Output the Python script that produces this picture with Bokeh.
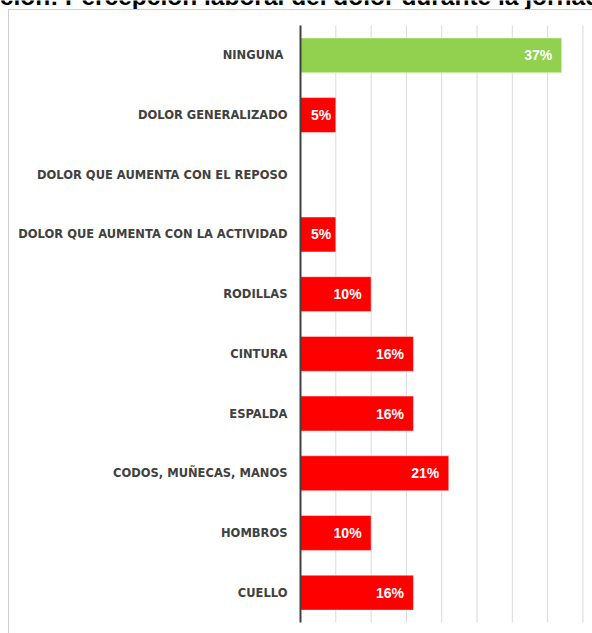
from bokeh.plotting import figure
from bokeh.models import Range1d, ColumnDataSource, InlineStyleSheet
from bokeh.embed import file_html
from bokeh.resources import INLINE
from bokeh.core.properties import value

# ---- data (top to bottom) ----
categories = [
    "NINGUNA ",
    "DOLOR GENERALIZADO",
    "DOLOR QUE AUMENTA CON EL REPOSO",
    "DOLOR QUE AUMENTA CON LA ACTIVIDAD",
    "RODILLAS",
    "CINTURA",
    "ESPALDA",
    "CODOS, MUÑECAS, MANOS",
    "HOMBROS",
    "CUELLO",
]
values = [37, 5, 0, 5, 10, 16, 16, 21, 10, 16]
grid_ticks = [0, 5, 10, 15, 20, 25, 30, 35, 40]
title_text = "Distribución: Percepción laboral del dolor durante la jornada"

GREEN = "#92D050"
RED = "#FF0000"

W, H = 592, 633
n = len(categories)
# the plotting frame covers the whole canvas; category slots sit from px 25 to px 622
PX_PER_PCT = 7.06
X0_PX = 300
x_start = -X0_PX / PX_PER_PCT
x_end = (W - X0_PX) / PX_PER_PCT
slot = (622 - 25) / n
y_start = -(H - 622) / slot
y_end = n + 25 / slot

ypos = [n - 0.5 - i for i in range(n)]
colors = [GREEN if c.strip() == "NINGUNA" else RED for c in categories]
src = ColumnDataSource(dict(y=ypos, cat=categories, val=values, color=colors))

lab_y = [y for y, v in zip(ypos, values) if v > 0]
lab_vals = [v for v in values if v > 0]
lab_txt = [f"{v}%" for v in lab_vals]
lab_off = [-4.5 if v < 8 else -9.5 for v in lab_vals]
lab_src = ColumnDataSource(dict(y=lab_y, val=lab_vals, txt=lab_txt, off=lab_off))

p = figure(
    width=W, height=H,
    x_range=Range1d(x_start, x_end), y_range=Range1d(y_start, y_end),
    x_axis_location=None, y_axis_location=None,
    output_backend="svg", toolbar_location=None,
    min_border=0, margin=(0, 0, 0, 0),
)
p.outline_line_color = None
p.background_fill_color = "white"
p.border_fill_color = "white"
p.grid.visible = False

# outer chart border: only its left and top edges fall inside the picture
p.stylesheets = [InlineStyleSheet(css="""
:host { position: relative; }
:host::after {
  content: ""; position: absolute; left: 8px; top: 9px; right: 0; bottom: 0;
  border-left: 1px solid #cfcfcf; border-top: 1px solid #cfcfcf;
  pointer-events: none; z-index: 10;
}
""")]

# vertical grid lines at the value ticks, spanning the category area
p.segment(x0=grid_ticks, x1=grid_ticks, y0=[0] * len(grid_ticks), y1=[n] * len(grid_ticks),
          line_color="#d9d9d9", line_width=1)

p.hbar(y="y", right="val", left=0, height=0.585, source=src,
       fill_color="color", line_color="white", line_alpha=0.45, line_width=1)

# category axis line
p.segment(x0=[0], x1=[0], y0=[0], y1=[n], line_color="#404040", line_width=2)

# category labels
p.text(x=0, y="y", text="cat", source=src, x_offset=-13,
       text_align="right", text_baseline="middle",
       text_font=value("DejaVu Sans"), text_font_style="bold",
       text_font_size="11.5px", text_color="#404040")

# value labels
p.text(x="val", y="y", text="txt", source=lab_src, x_offset="off",
       text_align="right", text_baseline="middle",
       text_font=value("Liberation Sans"), text_font_style="bold",
       text_font_size="14px", text_color="white")

# title, cut off by the top edge of the picture
title_x = x_start + 260 / PX_PER_PCT
title_y = y_end - 9 / slot
p.text(x=[title_x], y=[title_y], text=[title_text],
       text_align="center", text_baseline="bottom",
       text_font=value("Liberation Sans"), text_font_style="bold",
       text_font_size="24.5px", text_color="black")

open("out.html", "w").write(file_html(p, INLINE))
